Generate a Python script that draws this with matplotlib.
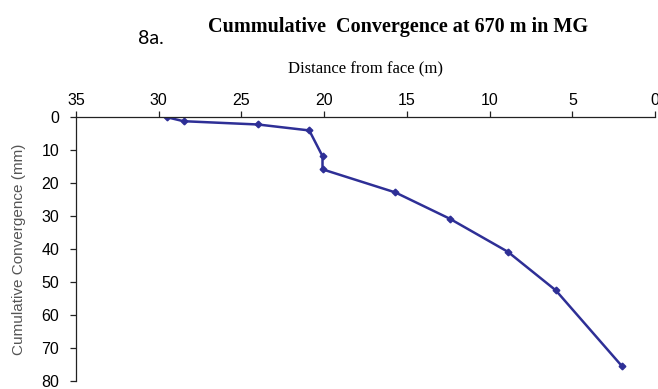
import matplotlib
matplotlib.use("Agg")
import matplotlib.pyplot as plt

# distance from face (m) and cumulative convergence (mm)
distance = [29.5, 28.5, 24.0, 20.9, 20.1, 20.1, 15.7, 12.4, 8.9, 6.0, 2.0]
convergence = [0.0, 1.2, 2.2, 4.0, 11.8, 15.8, 22.8, 30.8, 40.8, 52.5, 75.5]

x_ticks = [35, 30, 25, 20, 15, 10, 5, 0]
y_ticks = [0, 10, 20, 30, 40, 50, 60, 70, 80]

line_color = "#2e2f96"
tick_font = "Liberation Sans"
serif_font = "Liberation Serif"

fig = plt.figure(figsize=(6.58, 3.89), dpi=100)
ax = fig.add_axes([0.1155, 0.0206, 0.88, 0.678])

ax.plot(distance, convergence, color=line_color, lw=1.8,
        marker="D", markersize=3.4, markerfacecolor=line_color,
        markeredgecolor=line_color)

ax.set_xlim(35, 0)
ax.set_ylim(80, 0)
ax.set_xticks(x_ticks)
ax.set_yticks(y_ticks)

ax.xaxis.tick_top()
ax.xaxis.set_label_position("top")
ax.spines["right"].set_visible(False)
ax.spines["bottom"].set_visible(False)
for s in ("left", "top"):
    ax.spines[s].set_linewidth(0.9)
    ax.spines[s].set_color("#222222")

ax.tick_params(axis="both", direction="out", length=4, width=0.9,
               color="#222222", labelsize=11.5)
ax.tick_params(axis="x", pad=3)
ax.tick_params(axis="y", pad=8)
for lab in ax.get_xticklabels() + ax.get_yticklabels():
    lab.set_fontfamily(tick_font)

ax.set_xlabel("Distance from face (m)", fontfamily=serif_font,
              fontsize=12, labelpad=14)
ax.set_ylabel("Cumulative Convergence (mm)", fontfamily=tick_font,
              fontsize=11, color="#555555", labelpad=11)

fig.text(0.605, 0.93, "Cummulative  Convergence at 670 m in MG",
         fontfamily=serif_font, fontweight="bold", fontsize=14.5,
         ha="center", va="center")
fig.text(0.23, 0.9, "8a.", fontfamily="Lato", fontsize=14,
         ha="center", va="center")

fig.savefig("out.png", dpi=100)
